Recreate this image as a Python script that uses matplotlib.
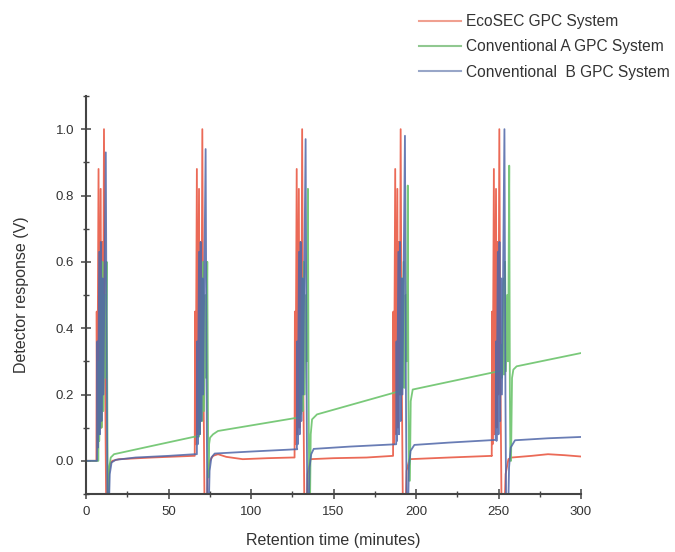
import matplotlib
matplotlib.use("Agg")
import matplotlib.pyplot as plt
from matplotlib.ticker import MultipleLocator, FormatStrFormatter

plt.rcParams['font.family'] = ['Liberation Sans', 'DejaVu Sans']

series_labels = ["EcoSEC GPC System", "Conventional A GPC System", "Conventional  B GPC System"]

# EcoSEC GPC System (red)
eco_t = [0, 6.3, 6.5, 6.8, 7.6, 8.0, 8.9, 9.3, 9.9, 10.3, 10.9, 11.5, 12.2, 13.2, 13.6, 14.5, 16, 20, 40, 65,
         65.9, 66.1, 66.4, 67.2, 67.6, 68.5, 68.9, 69.5, 69.9, 70.5, 71.1, 71.8, 73.3, 73.8, 75, 77, 80, 85, 95, 110, 125,
         126.4, 126.6, 126.9, 127.7, 128.1, 129.0, 129.4, 130.0, 130.4, 131.0, 131.6, 132.3, 133.8, 134.3, 136, 150, 170, 186,
         186.1, 186.3, 186.6, 187.4, 187.8, 188.7, 189.1, 189.7, 190.1, 190.7, 191.3, 192.0, 193.8, 194.3, 196, 220, 246,
         245.9, 246.1, 246.4, 247.2, 247.6, 248.5, 248.9, 249.5, 249.9, 250.5, 251.1, 251.8, 253.8, 254.3, 256, 258, 270, 280, 290, 300]
eco_v = [0.0, 0.0, 0.45, 0.04, 0.88, 0.08, 0.82, 0.10, 0.66, 0.20, 1.00, 0.30, -0.12, -0.12, -0.05, -0.01, 0.0, 0.005, 0.01, 0.015,
         0.015, 0.45, 0.05, 0.88, 0.08, 0.82, 0.10, 0.66, 0.20, 1.00, 0.30, -0.12, -0.12, -0.03, 0.0, 0.015, 0.02, 0.012, 0.005, 0.008, 0.01,
         0.01, 0.45, 0.05, 0.88, 0.08, 0.82, 0.10, 0.66, 0.20, 1.00, 0.30, -0.12, -0.12, -0.04, 0.005, 0.008, 0.01, 0.015,
         0.015, 0.45, 0.05, 0.88, 0.08, 0.82, 0.10, 0.66, 0.20, 1.00, 0.30, -0.12, -0.12, -0.03, 0.005, 0.01, 0.015,
         0.015, 0.45, 0.05, 0.88, 0.08, 0.82, 0.10, 0.66, 0.20, 1.00, 0.30, -0.12, -0.12, -0.04, 0.005, 0.01, 0.015, 0.02, 0.017, 0.013]

# Conventional A GPC System (green)
conv_a_t = [0, 7.5, 7.7, 8.0, 9.0, 9.4, 10.0, 10.5, 11.3, 11.8, 12.5, 12.9, 13.2, 13.7, 14.1, 15, 17, 40, 66,
            68.5, 68.7, 69.0, 70.0, 70.4, 71.0, 71.5, 72.3, 72.8, 73.5, 73.9, 74.2, 74.6, 75.2, 77, 80, 128,
            129.5, 129.7, 130.0, 131.0, 131.4, 132.0, 132.5, 133.3, 133.8, 134.5, 134.9, 135.3, 135.8, 136.2, 137, 140, 190,
            190.0, 190.2, 190.5, 191.5, 191.9, 192.5, 193.0, 193.8, 194.3, 195.0, 195.4, 195.8, 196.3, 196.8, 198, 250,
            251.5, 251.7, 252.0, 253.0, 253.4, 254.0, 254.5, 255.3, 255.8, 256.5, 256.9, 257.2, 257.6, 258.2, 259, 261, 300]
conv_a_v = [0.0, 0.0, 0.30, 0.06, 0.55, 0.10, 0.60, 0.15, 0.50, 0.25, 0.60, 0.20, -0.12, -0.12, -0.02, 0.01, 0.02, 0.045, 0.073,
            0.073, 0.30, 0.08, 0.55, 0.12, 0.60, 0.15, 0.50, 0.25, 0.60, 0.16, -0.05, 0.05, 0.07, 0.08, 0.09, 0.13,
            0.13, 0.30, 0.14, 0.55, 0.15, 0.60, 0.20, 0.50, 0.30, 0.82, 0.20, -0.12, -0.12, 0.08, 0.125, 0.14, 0.21,
            0.21, 0.30, 0.20, 0.55, 0.22, 0.60, 0.22, 0.50, 0.30, 0.83, 0.20, -0.06, -0.06, 0.18, 0.215, 0.27,
            0.27, 0.35, 0.25, 0.55, 0.26, 0.60, 0.27, 0.50, 0.30, 0.89, 0.20, 0.0, 0.0, 0.25, 0.275, 0.285, 0.325]

# Conventional B GPC System (blue)
conv_b_t = [0, 6.7, 6.9, 7.2, 8.0, 8.4, 9.0, 9.4, 10.0, 10.5, 12.0, 12.6, 13.0, 14.0, 14.4, 15.5, 18, 30, 50, 66,
            67.2, 67.4, 67.7, 68.5, 68.9, 69.5, 69.9, 70.5, 71.0, 72.5, 73.1, 73.5, 74.5, 74.9, 76, 78, 100, 128,
            127.8, 128.0, 128.3, 129.1, 129.5, 130.1, 130.5, 131.1, 131.6, 133.1, 133.7, 134.1, 135.1, 135.5, 136.5, 138, 160, 188,
            188.0, 188.2, 188.5, 189.3, 189.7, 190.3, 190.7, 191.3, 191.8, 193.3, 193.9, 194.3, 195.3, 195.7, 196.7, 199, 220, 248,
            248.3, 248.5, 248.8, 249.6, 250.0, 250.6, 251.0, 251.6, 252.1, 253.6, 254.2, 254.6, 256.0, 256.4, 257.4, 260, 280, 300]
conv_b_v = [0.0, 0.0, 0.36, 0.04, 0.63, 0.08, 0.66, 0.12, 0.55, 0.20, 0.93, 0.20, -0.12, -0.12, -0.04, -0.005, 0.003, 0.01, 0.015, 0.02,
            0.02, 0.36, 0.05, 0.63, 0.08, 0.66, 0.12, 0.55, 0.20, 0.94, 0.20, -0.12, -0.12, -0.03, 0.01, 0.022, 0.028, 0.035,
            0.035, 0.36, 0.05, 0.63, 0.08, 0.66, 0.12, 0.55, 0.20, 0.97, 0.20, -0.12, -0.12, -0.02, 0.02, 0.036, 0.043, 0.05,
            0.05, 0.36, 0.06, 0.63, 0.08, 0.66, 0.12, 0.55, 0.20, 0.98, 0.20, -0.12, -0.12, -0.02, 0.03, 0.048, 0.055, 0.063,
            0.063, 0.36, 0.06, 0.63, 0.08, 0.66, 0.12, 0.55, 0.20, 1.00, 0.20, -0.12, -0.12, -0.02, 0.04, 0.062, 0.068, 0.072]

x_label = "Retention time (minutes)"
y_label = "Detector response (V)"

colors = ["#e8503a", "#6cc46c", "#4f66a8"]
text_col = "#333333"
spine_col = "#444444"

fig = plt.figure(figsize=(6.75, 5.52), dpi=100)
ax = fig.add_axes([86/675, 1 - 494/552, 495/675, 398/552])

l_eco, = ax.plot(eco_t, eco_v, color=colors[0], lw=1.3, alpha=0.85, label=series_labels[0])
l_a, = ax.plot(conv_a_t, conv_a_v, color=colors[1], lw=1.3, alpha=0.9, label=series_labels[1])
l_b, = ax.plot(conv_b_t, conv_b_v, color=colors[2], lw=1.3, alpha=0.85, label=series_labels[2])

ax.set_xlim(0, 300)
ax.set_ylim(-0.1, 1.1)
ax.xaxis.set_major_locator(MultipleLocator(50))
ax.xaxis.set_minor_locator(MultipleLocator(25))
ax.yaxis.set_major_locator(MultipleLocator(0.2))
ax.yaxis.set_minor_locator(MultipleLocator(0.1))
ax.yaxis.set_major_formatter(FormatStrFormatter('%.1f'))

for s in ['top', 'right']:
    ax.spines[s].set_visible(False)
for s in ['left', 'bottom']:
    ax.spines[s].set_color(spine_col)
    ax.spines[s].set_linewidth(1.5)

ax.tick_params(which='major', direction='inout', length=7, width=1.1, color=spine_col,
               labelsize=9.5, labelcolor=text_col, pad=5)
ax.tick_params(which='minor', direction='inout', length=4, width=1.0, color=spine_col)

ax.set_xlabel(x_label, fontsize=11.5, color=text_col, labelpad=11)
ax.set_ylabel(y_label, fontsize=11.5, color=text_col, labelpad=19)

leg = fig.legend(handles=[l_eco, l_a, l_b], labels=series_labels, loc='upper left',
                 bbox_to_anchor=(419/675, 1 - 14/552), frameon=False, fontsize=11.2,
                 handlelength=2.7, handletextpad=0.3, labelspacing=0.66, borderpad=0, borderaxespad=0)
for t in leg.get_texts():
    t.set_color(text_col)
leg_cols = ["#f0a090", "#90c890", "#98a6c8"]
for h, c in zip(leg.legend_handles, leg_cols):
    h.set_color(c)
    h.set_alpha(1)
    h.set_linewidth(1.5)

fig.savefig("out.png", dpi=100)
